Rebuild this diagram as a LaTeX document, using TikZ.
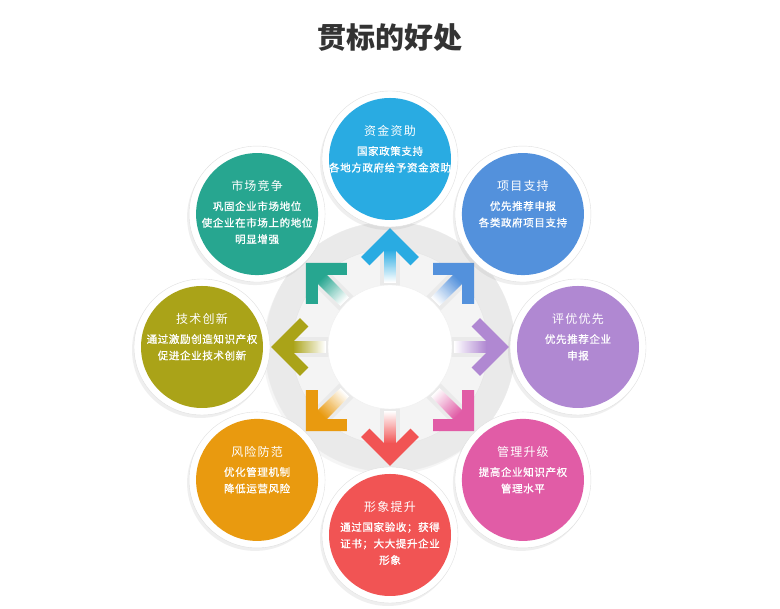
\documentclass[tikz,border=0pt]{standalone}
\usepackage{fontspec}
\setmainfont{Noto Sans CJK SC}
\usetikzlibrary{positioning, calc, shadows}

\definecolor{zjblue}{HTML}{29ABE2}
\definecolor{xmblue}{HTML}{5391DC}
\definecolor{pypurple}{HTML}{B088D2}
\definecolor{glpink}{HTML}{E15CA6}
\definecolor{xsred}{HTML}{F15454}
\definecolor{fxorange}{HTML}{E99A0F}
\definecolor{jsolive}{HTML}{AAA318}
\definecolor{scgreen}{HTML}{27A690}
\definecolor{platefill}{HTML}{EAEAEA}
\definecolor{bandfill}{HTML}{F4F4F4}

\newcommand{\bubblesize}{136pt}
\newcommand{\discradius}{61pt}
\newcommand{\spokewidth}{12pt}

\tikzstyle{title} = [% heading of the whole picture
  font=\fontsize{29}{32}\selectfont\bfseries,
  text=black!80
  ]
\tikzstyle{plate} = [% grey disc behind the spokes
  circle,
  minimum size=250pt,
  inner sep=0pt,
  fill=platefill,
  draw=black!8,
  drop shadow={shadow xshift=-2pt, shadow yshift=-3pt, opacity=.08}
  ]
\tikzstyle{band} = [% lighter ring the spokes cross
  circle,
  minimum size=196pt,
  inner sep=0pt,
  fill=bandfill,
  draw=black!10
  ]
\tikzstyle{core} = [% empty centre
  circle,
  minimum size=124pt,
  inner sep=0pt,
  fill=white,
  draw=black!6
  ]
\tikzstyle{bubble} = [% white rim with a coloured disc inside
  circle,
  minimum size=\bubblesize,
  inner sep=0pt,
  fill=white,
  draw=black!12,
  drop shadow={shadow xshift=-2pt, shadow yshift=-3pt, opacity=.12},
  path picture={\fill[#1] (path picture bounding box.center) circle (\discradius);}
  ]
\tikzstyle{head} = [% name of a benefit
  inner sep=0pt,
  text=white,
  font=\fontsize{12}{14}\selectfont\addfontfeatures{LetterSpace=10}
  ]
\tikzstyle{body} = [% short explanation
  inner sep=0pt,
  align=center,
  text=white,
  font=\fontsize{10.5}{16.5}\selectfont\addfontfeatures{LetterSpace=6, FakeBold=1}
  ]
\tikzstyle{arrowhead} = [% open chevron of a spoke
  line width=\spokewidth,
  line join=miter,
  line cap=butt
  ]

\begin{document}
\begin{tikzpicture}[x=1pt, y=1pt]

\useasboundingbox (0,0) rectangle (780,609);
\fill[white] (0,0) rectangle (780,609);

%%% Title
\node[title] (title) at (390,571) {贯标的好处};

%%% Hub
\node[plate] (hub) at (390,262) {};
\node[band] (band) at (hub) {};

%%% Spokes
\foreach \a/\c in {90/zjblue, 45/xmblue, 0/pypurple, -45/glpink,
                   -90/xsred, -135/fxorange, 180/jsolive, 135/scgreen} {
  \begin{scope}[shift={(hub)}, rotate=\a-90]
    \fill[platefill] (-10,60) rectangle (10,110);
    \foreach \k in {0,...,32} {
      \pgfmathtruncatemacro\p{\k*100/32}
      \draw[line width=\spokewidth, \c!\p!white] (0,64+\k) -- (0,106);
    }
    \draw[arrowhead, \c] (-24.7,85.8) -- (0,110.5) -- (24.7,85.8);
  \end{scope}
}

\node[core] (core) at (hub) {};

%%% Bubbles
\node[bubble=zjblue] (zijin) at ($(hub)+(90:188)$) {};
\node[bubble=xmblue] (xiangmu) at ($(hub)+(45:188)$) {};
\node[bubble=pypurple] (pingyou) at ($(hub)+(0:188)$) {};
\node[bubble=glpink] (guanli) at ($(hub)+(-45:188)$) {};
\node[bubble=xsred] (xingxiang) at ($(hub)+(-90:188)$) {};
\node[bubble=fxorange] (fengxian) at ($(hub)+(-135:188)$) {};
\node[bubble=jsolive] (jishu) at ($(hub)+(180:188)$) {};
\node[bubble=scgreen] (shichang) at ($(hub)+(135:188)$) {};

%%% Texts
\node[head] (zijin-h) [above=22pt of zijin.center] {资金资助};
\node[body] (zijin-b) [below=9pt of zijin-h] {国家政策支持\\各地方政府给予资金资助};

\node[head] (xiangmu-h) [above=22pt of xiangmu.center] {项目支持};
\node[body] (xiangmu-b) [below=9pt of xiangmu-h] {优先推荐申报\\各类政府项目支持};

\node[head] (pingyou-h) [above=22pt of pingyou.center] {评优优先};
\node[body] (pingyou-b) [below=9pt of pingyou-h] {优先推荐企业\\申报};

\node[head] (guanli-h) [above=22pt of guanli.center] {管理升级};
\node[body] (guanli-b) [below=9pt of guanli-h] {提高企业知识产权\\管理水平};

\node[head] (xingxiang-h) [above=22pt of xingxiang.center] {形象提升};
\node[body] (xingxiang-b) [below=9pt of xingxiang-h] {通过国家验收；获得\\证书；大大提升企业\\形象};

\node[head] (fengxian-h) [above=22pt of fengxian.center] {风险防范};
\node[body] (fengxian-b) [below=9pt of fengxian-h] {优化管理机制\\降低运营风险};

\node[head] (jishu-h) [above=22pt of jishu.center] {技术创新};
\node[body] (jishu-b) [below=9pt of jishu-h] {通过激励创造知识产权\\促进企业技术创新};

\node[head] (shichang-h) [above=22pt of shichang.center] {市场竞争};
\node[body] (shichang-b) [below=9pt of shichang-h] {巩固企业市场地位\\使企业在市场上的地位\\明显增强};

\end{tikzpicture}
\end{document}
